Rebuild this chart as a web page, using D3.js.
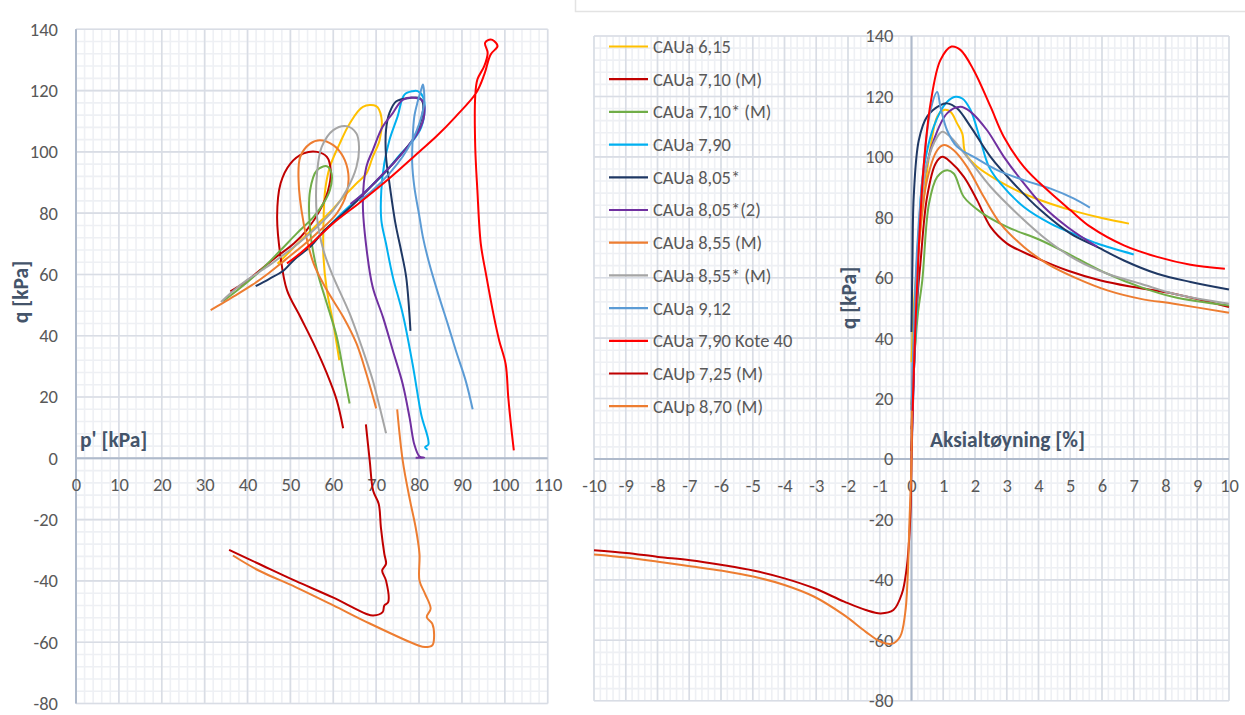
<!DOCTYPE html>
<html><head><meta charset="utf-8">
<script src="https://cdn.jsdelivr.net/npm/d3@7"></script>
<style>
html,body{margin:0;padding:0;background:#fff;}
svg{display:block;}
text{font-family:Carlito,Lato,"Liberation Sans",sans-serif;}
</style></head><body>
<svg id="c" width="1245" height="715"></svg>
<script>
// ---------- data ----------
const seriesNames = ["CAUa 6,15","CAUa 7,10 (M)","CAUa 7,10* (M)","CAUa 7,90","CAUa 8,05*","CAUa 8,05*(2)","CAUa 8,55 (M)","CAUa 8,55* (M)","CAUa 9,12","CAUa 7,90 Kote 40","CAUp 7,25 (M)","CAUp 8,70 (M)"];
const seriesColors = ["#FFC000","#C00000","#70AD47","#00B0F0","#1F3864","#7030A0","#ED7D31","#A5A5A5","#5B9BD5","#FF0000","#C00000","#ED7D31"];

const pTicks = [0,10,20,30,40,50,60,70,80,90,100,110];
const qTicks = [-80,-60,-40,-20,0,20,40,60,80,100,120,140];
const strainTicks = [-10,-9,-8,-7,-6,-5,-4,-3,-2,-1,0,1,2,3,4,5,6,7,8,9,10];

// stress paths [p', q]
const path615 = [[61.4,32],[60,44],[58.5,54.9],[57.7,65.8],[57.7,76.6],[58.1,87.5],[59.2,95.1],[61.5,102.7],[63.8,109.2],[66.9,114.7],[70,114.9],[71.2,111.4],[70.8,103.8],[69.2,98.4],[67.7,92.9],[65.4,89.7],[63.1,86.4],[60,81.5],[56,76],[52,70.5],[47,63.5]];
const path710 = [[62.3,9.8],[60.8,19],[58.5,27.7],[55.4,37.5],[52.3,46.2],[49.2,54.9],[47.7,65.8],[46.9,78.8],[47.7,89.7],[50,96.2],[53.1,99.5],[56.2,100],[58.5,98.4],[59.4,94],[58.8,87.5],[56.9,81],[53.8,74.5],[50.8,70.1],[47,66],[43,61.5],[39.5,57.5],[36,54.5]];
const path710s = [[63.8,17.9],[62.3,28.8],[60.8,39.7],[58.5,50.5],[56.2,61.4],[54.6,74.5],[54.6,87.5],[56.2,94],[58.5,95.3],[59.6,92.9],[59.2,87.5],[57.7,83.2],[55.4,78.8],[51.5,73.4],[47.7,67.9],[43.1,61.4],[37.7,54.9],[34.3,51.3]];
const path790 = [[82,2.8],[81.4,3.6],[82.2,4.6],[80.5,14.3],[78.5,30.7],[76.2,47.1],[73.9,59.1],[72.3,70],[71.2,77.7],[71.2,87.5],[71.9,96.3],[73.1,103.9],[75,111.6],[76.6,118.7],[78.5,119.8],[79.7,119.8],[80.9,118],[81.3,114],[80.5,108],[78.5,103.5],[75.5,99],[72.5,94],[69,89],[65.5,84.5],[62,80],[58.5,75],[54.6,69.5]];
const path805 = [[78,41.6],[77,59.1],[75.8,67.9],[74.5,76.6],[73.1,89.7],[72.3,98.5],[72.3,107.2],[73.1,112.7],[74.7,116.5],[77.8,117.6],[80.1,117.6],[80.9,116],[80.6,111],[79,105],[76,99.5],[72.5,94],[69,89],[65.5,84],[62,79.5],[58,74.5],[54.6,69],[51,65],[48.5,61.4],[45,58.5],[41.9,56.2]];
const path805b = [[79.2,0.2],[81.2,0.2],[80.1,0.6],[78.9,4.5],[77.8,13.2],[76.2,24.2],[73.9,35.1],[71.6,46],[69.2,55.8],[67.7,69],[66.9,83.2],[67.7,95.1],[69.2,100.5],[71.5,108.2],[73.8,112.5],[76.2,117],[79.3,117.6],[80.9,116.5],[81.2,112],[80,107],[77.5,102],[74.5,97],[71,92],[67.5,87],[64,83]];
const path855 = [[70,16.3],[67.7,27.7],[65.4,37.5],[62.3,46.2],[58.5,54.9],[55.4,63.6],[53.1,76.6],[51.9,90.8],[52.3,98.4],[54.6,102.7],[56.9,103.8],[60,102.2],[62.3,98.4],[63.5,92.9],[63.1,86.4],[60.8,79.9],[57,74.5],[53,69.5],[49,65],[45,60.5],[41,56.5],[37,53],[34,50.5],[31.4,48.4]];
const path855s = [[72.3,8.2],[70.8,16.8],[69.2,25.5],[66.9,35.3],[63.8,47.3],[60,59.2],[57.7,67.9],[56.2,78.8],[56.2,92.9],[57.3,101.6],[60,107.1],[63.1,108.4],[65.4,106],[66,101.6],[65.4,95.1],[63.1,87.5],[60,81],[56.2,75.5],[52.3,70.7],[48,66],[44.6,62.5],[40,58.3],[36.9,54.9],[33.8,51]];
const path912 = [[92.5,16],[90.9,25.2],[88.6,35.1],[86.7,43.8],[84.7,52.6],[82.4,63.5],[80.9,72.2],[80.1,78.8],[78.9,88.6],[78.4,96.3],[78.5,103.9],[78.9,111.6],[79.7,116.5],[80.5,120.3],[80.9,122],[81.2,116],[80.1,109.4],[78.5,104],[76.2,98.5],[73.1,93],[69.2,87.5],[66,84]];
const path790k = [[102.1,2.6],[101.5,10],[100.8,20],[100.2,30.7],[98.7,38.4],[97.5,46],[95.6,60.2],[94.4,70],[93.6,87.5],[93.1,101.7],[93.1,118.1],[93.6,123.6],[95.2,128],[96,132.3],[95.4,135.6],[96.7,136.7],[97.5,136.2],[98.3,134.5],[96.7,131.8],[95.2,125.2],[93.3,119.2],[88.6,111.6],[84,105],[80,100],[73.1,91.4],[66.2,83.5],[60,76.7],[55.4,70.7],[52.3,66.9],[49.2,63.6]];
const path725p = [[67.6,11.1],[68.5,-0.8],[69.3,-10.6],[70.6,-14.9],[71.1,-22.5],[71.9,-31.2],[72.3,-34.4],[71.4,-36.6],[72.3,-39.9],[72.8,-46.9],[71.9,-48],[71.5,-50.2],[69.3,-51.3],[67.6,-50.7],[59.9,-45.4],[51.2,-40],[42.6,-34.4],[35.7,-29.9]];
const path870p = [[74.9,16],[76.2,-0.8],[77.9,-13.8],[79.2,-22.5],[80.1,-31.2],[80.1,-39.9],[81.4,-44.2],[82.7,-49.1],[81.8,-51.8],[83.1,-54],[83.5,-58.3],[83.1,-61],[81.4,-61.6],[79.7,-61],[68.5,-53.9],[59.9,-47.9],[51.2,-42],[42.6,-36.6],[36.6,-31.7]];

// q vs axial strain [strain %, q]
const strain615 = [[0,32],[0.05,45],[0.1,55],[0.18,64.6],[0.39,86.7],[0.6,103.3],[0.81,113.3],[1.02,115.5],[1.23,114.9],[1.44,111],[1.6,107.7],[1.7,101.1],[2.07,96.7],[2.7,92.3],[3.54,87.8],[4.38,84.5],[5.22,81.8],[6.06,79.6],[6.85,77.9]];
const strain710 = [[0,9.8],[0.1,35],[0.2,55],[0.28,64.6],[0.49,86.7],[0.76,97.8],[0.97,100],[1.23,98.3],[1.65,93.4],[2.07,85.6],[2.49,76.8],[3.01,71.3],[3.86,66.9],[4.91,62.4],[5.96,59.1],[7.0,56.9],[8.26,54.7],[10,50.3]];
const strain710s = [[0,17.9],[0.1,35],[0.2,48],[0.34,59.1],[0.55,84.5],[0.81,93.4],[1.12,95.6],[1.33,94.5],[1.65,86.7],[2.17,81.8],[3.01,76.8],[4.07,72.4],[5.12,66.9],[6.17,61.3],[7.22,56.9],[8.26,53.6],[10,50.8]];
const strain790 = [[0,2.8],[0.08,30],[0.18,53.6],[0.34,92.3],[0.7,110],[1.12,118.2],[1.39,119.9],[1.6,119.3],[1.86,115.5],[2.17,105.5],[2.44,96.7],[2.8,91.2],[3.54,83.4],[4.38,77.9],[5.22,74],[5.85,71.3],[7.0,67.7]];
const strain805 = [[0,42],[0.03,65],[0.07,86.7],[0.23,105.5],[0.49,113.3],[0.91,117.1],[1.12,117.7],[1.44,116],[1.86,110],[2.49,100],[3.22,91.2],[4.07,82.3],[5.01,74.6],[5.85,70.2],[6.69,65.7],[7.74,61.3],[8.79,58.6],[10,56.1]];
const strain805b = [[0,0.2],[0.08,30],[0.18,64.6],[0.39,92.3],[0.7,105.5],[1.12,114.4],[1.54,116.6],[1.86,114.9],[2.38,108.8],[2.91,100],[3.54,91.2],[4.17,83.4],[4.91,76.8],[5.85,70.2]];
const strain855 = [[0,16.3],[0.1,45],[0.23,70.2],[0.49,92.3],[0.81,102.2],[1.02,103.9],[1.33,102.2],[1.75,96.7],[2.28,86.7],[2.8,77.9],[3.54,70.2],[4.28,64.6],[5.22,59.7],[6.17,55.8],[7.22,53],[8.26,51.4],[10,48.4]];
const strain855s = [[0,8.2],[0.1,45],[0.23,75.7],[0.49,97.8],[0.81,106.6],[0.97,108.3],[1.23,106.6],[1.75,100],[2.49,90.1],[3.33,81.2],[4.28,72.4],[5.22,65.7],[6.17,61.3],[7.22,58],[8.26,54.7],[10,51.4]];
const strain912 = [[0,16],[0.08,45],[0.18,70.2],[0.39,97.8],[0.6,115.5],[0.81,121.5],[0.91,116.6],[1.12,108.8],[1.44,103.3],[1.96,100],[2.7,95.6],[3.54,92.3],[4.38,89.5],[5.12,86.2],[5.62,83.2]];
const strain790k = [[0,2.6],[0.06,25],[0.13,45.9],[0.23,70.2],[0.39,97.8],[0.6,117.7],[0.91,132],[1.26,136.5],[1.54,135.4],[1.96,128.7],[2.49,116.6],[2.91,106.6],[3.54,96.7],[4.28,89],[5.01,82.3],[5.64,76.8],[6.69,70.7],[7.74,66.9],[8.79,64.3],[9.87,63]];
const strain725p = [[0.01,11],[0,-0.4],[-0.03,-17],[-0.09,-29.1],[-0.16,-36.8],[-0.3,-44.5],[-0.57,-50],[-0.97,-51.1],[-1.44,-50],[-2.12,-47.2],[-3.06,-42.8],[-4,-39.5],[-4.95,-37],[-5.96,-35.1],[-6.97,-33.5],[-7.98,-32.4],[-8.99,-31.1],[-10,-30.2]];
const strain870p = [[0.01,16],[0,-0.4],[-0.07,-22.5],[-0.12,-39],[-0.2,-51.1],[-0.36,-58.8],[-0.63,-61.2],[-0.97,-60.5],[-1.44,-57.2],[-2.12,-51.7],[-3.06,-45.6],[-4,-41.7],[-4.95,-39],[-5.96,-37],[-6.97,-35.5],[-7.98,-34],[-8.99,-32.6],[-10,-31.6]];

const stressPaths = [path615,path710,path710s,path790,path805,path805b,path855,path855s,path912,path790k,path725p,path870p];
const strainCurves = [strain615,strain710,strain710s,strain790,strain805,strain805b,strain855,strain855s,strain912,strain790k,strain725p,strain870p];

// ---------- drawing ----------
const svg = d3.select("#c");
const TICK = "#595959", TITLE = "#44546A";
const MINOR = "#eef0f4", MAJOR = "#d9dde5", AXIS = "#afbacb";
const TICK_FS = "18.5px";

// top border artifact
svg.append("path").attr("d","M575.5,0V11.5H1245").attr("fill","none").attr("stroke","#e3e3e3").attr("stroke-width",1.5);

function panel(xs, ys, xMinor, yMinor, xMajor, yMajor) {
  const g = svg.append("g");
  const [x0,x1] = xs.range(), [y0,y1] = ys.range();
  const gm = g.append("g");
  xMinor.forEach(v => gm.append("line").attr("x1",xs(v)).attr("x2",xs(v)).attr("y1",y0).attr("y2",y1).attr("stroke",MINOR).attr("stroke-width",1.6));
  yMinor.forEach(v => gm.append("line").attr("y1",ys(v)).attr("y2",ys(v)).attr("x1",x0).attr("x2",x1).attr("stroke",MINOR).attr("stroke-width",1.6));
  xMajor.forEach(v => gm.append("line").attr("x1",xs(v)).attr("x2",xs(v)).attr("y1",y0).attr("y2",y1).attr("stroke",MAJOR).attr("stroke-width",1.6));
  yMajor.forEach(v => gm.append("line").attr("y1",ys(v)).attr("y2",ys(v)).attr("x1",x0).attr("x2",x1).attr("stroke",MAJOR).attr("stroke-width",1.6));
  return g;
}

// Left panel
const xL = d3.scaleLinear().domain([0,110]).range([76,547.7]);
const yL = d3.scaleLinear().domain([-80,140]).range([703.5,29.3]);
const gL = panel(xL, yL, d3.range(0,111,2), d3.range(-80,141,4), pTicks, qTicks);
gL.append("line").attr("x1",xL(0)).attr("x2",xL(110)).attr("y1",yL(0)).attr("y2",yL(0)).attr("stroke",AXIS).attr("stroke-width",2);
gL.append("line").attr("x1",xL(0)).attr("x2",xL(0)).attr("y1",yL(-80)).attr("y2",yL(140)).attr("stroke",AXIS).attr("stroke-width",2);

// Right panel
const xR = d3.scaleLinear().domain([-10,10]).range([594,1229]);
const yR = d3.scaleLinear().domain([-80,140]).range([700.7,36]);
const gR = panel(xR, yR, d3.range(-100,101,2).map(v=>v/10), d3.range(-80,141,4), strainTicks, qTicks);
gR.append("line").attr("x1",xR(-10)).attr("x2",xR(10)).attr("y1",yR(0)).attr("y2",yR(0)).attr("stroke",AXIS).attr("stroke-width",2);
gR.append("line").attr("x1",xR(0)).attr("x2",xR(0)).attr("y1",yR(-80)).attr("y2",yR(140)).attr("stroke",AXIS).attr("stroke-width",2);

// axes labels via d3 axes
function styleAxis(sel){
  sel.select(".domain").remove();
  sel.selectAll(".tick line").remove();
  sel.selectAll("text").attr("fill",TICK).style("font-size",TICK_FS).style("font-family","Carlito,Lato,sans-serif");
}
const fmt = d => String(d);
svg.append("g").attr("transform",`translate(0,${yL(0)})`).call(d3.axisBottom(xL).tickValues(pTicks).tickFormat(fmt).tickSize(0).tickPadding(20)).call(styleAxis);
svg.append("g").attr("transform",`translate(${xL(0)},0)`).call(d3.axisLeft(yL).tickValues(qTicks).tickFormat(fmt).tickSize(0).tickPadding(18)).call(styleAxis);
svg.append("g").attr("transform",`translate(0,${yR(0)})`).call(d3.axisBottom(xR).tickValues(strainTicks).tickFormat(fmt).tickSize(0).tickPadding(20)).call(styleAxis);
svg.append("g").attr("transform",`translate(${xR(0)},0)`).call(d3.axisLeft(yR).tickValues(qTicks).tickFormat(fmt).tickSize(0).tickPadding(18)).call(styleAxis);

// titles
function title(x,y,txt,rot){
  const t = svg.append("text").attr("x",x).attr("y",y).text(txt).attr("fill",TITLE)
    .style("font-size","21.5px").style("font-weight","bold");
  if(rot){ t.attr("transform",`rotate(-90,${x},${y})`).attr("text-anchor","middle"); }
  return t;
}
title(80,447,"p' [kPa]");
title(930,447,"Aksialtøyning [%]");
title(28,292,"q [kPa]",true);
title(856,298,"q [kPa]",true);

// data lines
const lineL = d3.line().x(d=>xL(d[0])).y(d=>yL(d[1])).curve(d3.curveCatmullRom.alpha(0.5));
const lineR = d3.line().x(d=>xR(d[0])).y(d=>yR(d[1])).curve(d3.curveCatmullRom.alpha(0.5));
stressPaths.forEach((s,i)=>{
  svg.append("path").attr("d",lineL(s)).attr("fill","none").attr("stroke",seriesColors[i]).attr("stroke-width",2).attr("stroke-linejoin","round");
});
strainCurves.forEach((s,i)=>{
  svg.append("path").attr("d",lineR(s)).attr("fill","none").attr("stroke",seriesColors[i]).attr("stroke-width",2).attr("stroke-linejoin","round");
});

// legend
const leg = svg.append("g");
seriesNames.forEach((n,i)=>{
  const y = 46.5 + i*32.7;
  leg.append("line").attr("x1",609).attr("x2",648).attr("y1",y).attr("y2",y).attr("stroke",seriesColors[i]).attr("stroke-width",2.2);
  leg.append("text").attr("x",653).attr("y",y).attr("dy","0.35em").text(n).attr("fill",TICK).style("font-size",TICK_FS);
});
</script>
</body></html>
